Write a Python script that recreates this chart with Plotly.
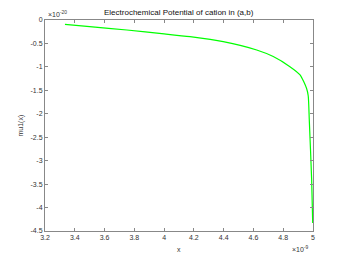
import plotly.graph_objects as go

# x in units of 1e-9, y in units of 1e-20
x_vals = [3.334, 3.5, 3.75, 4.0, 4.174, 4.397, 4.622, 4.733, 4.845, 4.913, 4.957, 4.968, 4.975, 4.991, 4.998]
y_vals = [-0.092, -0.14, -0.213, -0.295, -0.356, -0.462, -0.64, -0.78, -0.995, -1.17, -1.46, -1.62, -2.13, -3.41, -4.33]

x_ticks = [3.2, 3.4, 3.6, 3.8, 4.0, 4.2, 4.4, 4.6, 4.8, 5.0]
x_tick_text = ["3.2", "3.4", "3.6", "3.8", "4", "4.2", "4.4", "4.6", "4.8", "5"]
y_ticks = [0, -0.5, -1, -1.5, -2, -2.5, -3, -3.5, -4, -4.5]
y_tick_text = ["0", "-0.5", "-1", "-1.5", "-2", "-2.5", "-3", "-3.5", "-4", "-4.5"]

title = "Electrochemical Potential of cation in (a,b)"

fig = go.Figure()
fig.add_trace(go.Scatter(x=x_vals, y=y_vals, mode="lines",
                         line=dict(color="#00ff00", width=1.2, shape="spline", smoothing=0.6),
                         showlegend=False, hoverinfo="skip"))

axis_common = dict(showgrid=False, zeroline=False, showline=True, linecolor="#888888",
                   linewidth=1, mirror="ticks", ticks="inside", ticklen=3,
                   tickcolor="#888888", tickfont=dict(size=7, color="#333333",
                                                       family="Liberation Sans, Arial, sans-serif"))

fig.update_layout(
    width=346, height=260,
    margin=dict(l=45, r=33, t=20, b=29),
    paper_bgcolor="white", plot_bgcolor="white",
    font=dict(family="Liberation Sans, Arial, sans-serif", size=7, color="#333333"),
    xaxis=dict(range=[3.2, 5.0], tickvals=x_ticks, ticktext=x_tick_text, **axis_common),
    yaxis=dict(range=[-4.5, 0], tickvals=y_ticks, ticktext=y_tick_text, **axis_common),
    annotations=[
        dict(text=title, xref="paper", yref="paper", x=0.5, y=1.0, yshift=1,
             xanchor="center", yanchor="bottom", showarrow=False,
             font=dict(size=8, color="#111111")),
        dict(text="x", xref="paper", yref="paper", x=0.5, y=0, yshift=-13,
             xanchor="center", yanchor="top", showarrow=False, font=dict(size=7)),
        dict(text="mu1(x)", xref="paper", yref="paper", x=0, xshift=-25, y=0.5,
             xanchor="center", yanchor="middle", textangle=-90, showarrow=False,
             font=dict(size=7)),
        dict(text="×10<sup>-20</sup>", xref="paper", yref="paper", x=0, xshift=1, y=1.0,
             xanchor="left", yanchor="bottom", showarrow=False, font=dict(size=7)),
        dict(text="×10<sup>-9</sup>", xref="paper", yref="paper", x=1.0, xshift=-2, y=0,
             yshift=-12, xanchor="right", yanchor="top", showarrow=False, font=dict(size=7)),
    ],
)

fig.write_html("out.html", config={"displayModeBar": False},
               post_script="document.body.style.margin='0';document.body.style.padding='0';")
